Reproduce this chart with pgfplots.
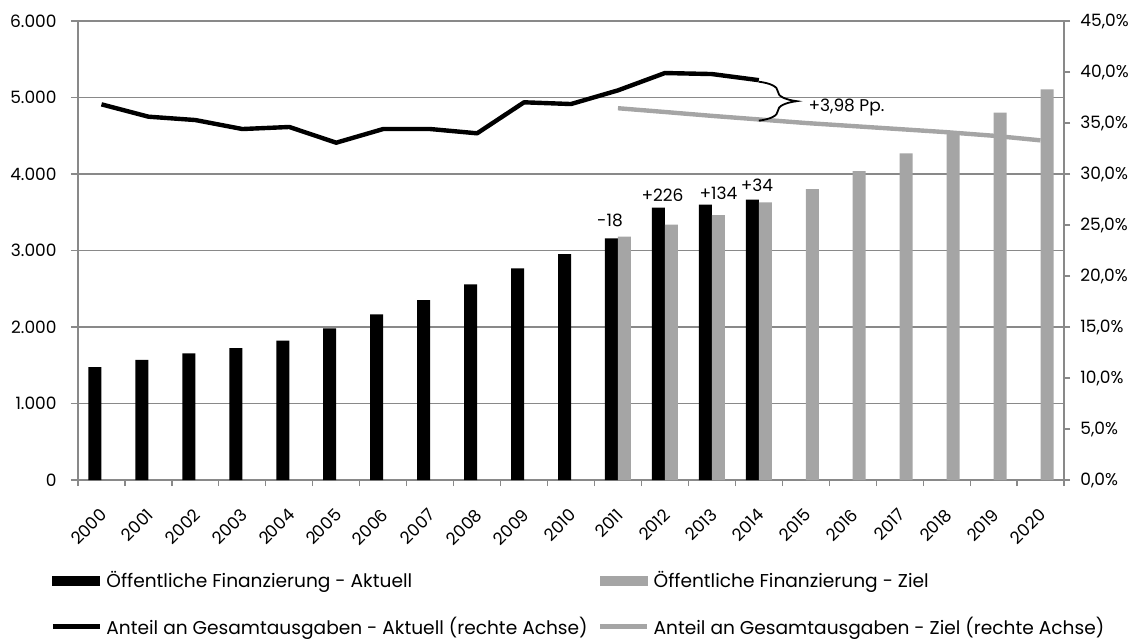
\documentclass[border=0pt]{standalone}
\usepackage{fontspec}
\setmainfont{Poppins}
\usepackage{pgfplots}
\pgfplotsset{compat=1.18}
\usetikzlibrary{decorations.pathreplacing}
\definecolor{barg}{HTML}{A5A5A5}
\definecolor{gridg}{HTML}{898989}
\newcommand{\fs}{\fontsize{8.5}{10}\selectfont}
\newcommand{\fl}{\fontsize{9.3}{11}\selectfont}
\begin{document}
\begin{tikzpicture}
\path[use as bounding box] (-39pt,-79.5pt) rectangle (530.5pt,240pt);
\begin{axis}[
  at={(0,0)}, anchor=south west,
  scale only axis, width=493pt, height=229.5pt,
  xmin=-0.5, xmax=20.5, ymin=0, ymax=6000,
  axis x line*=bottom, axis y line*=left,
  axis line style={draw=gridg, line width=0.6pt, -},
  ybar=0pt, bar width=6.5pt,
  ytick={0,1000,...,6000},
  ymajorgrids, grid style={draw=gridg, line width=0.6pt},
  tick align=outside, major tick length=3.5pt, minor tick length=3pt,
  tick style={draw=gridg, line width=0.6pt},
  xtick={0,...,20},
  xticklabels={2000,2001,2002,2003,2004,2005,2006,2007,2008,2009,2010,2011,2012,2013,2014,2015,2016,2017,2018,2019,2020},
  every major x tick/.append style={draw=none},
  minor xtick={-0.5,0.5,...,20.5},
  scaled y ticks=false,
  /pgf/number format/.cd, 1000 sep={.}, assume math mode=true, /pgfplots/.cd,
  tick label style={font=\fs},
  yticklabel style={anchor=east, inner sep=0pt, xshift=-7pt},
  xticklabel style={xshift=-1.25pt, yshift=-10pt, rotate=45, anchor=north east, inner sep=0pt},
]
\addplot[fill=black, draw=none] coordinates {
(0,1477) (1,1569) (2,1656) (3,1725) (4,1821) (5,1983) (6,2166) (7,2353) (8,2558) (9,2767) (10,2954) (11,3160) (12,3560) (13,3600) (14,3665)};
\addplot[fill=barg, draw=none] coordinates {
(11,3180) (12,3340) (13,3462) (14,3630) (15,3804) (16,4039) (17,4270) (18,4532) (19,4801) (20,5105)};
\node[font=\fs] at (axis cs:10.83,3399) {-18};
\node[font=\fs] at (axis cs:11.95,3725) {+226};
\node[font=\fs] at (axis cs:13.14,3752) {+134};
\node[font=\fs] at (axis cs:13.96,3856) {+34};
\end{axis}
\begin{axis}[
  at={(0,0)}, anchor=south west,
  scale only axis, width=493pt, height=229.5pt,
  xmin=-0.5, xmax=20.5, ymin=0, ymax=45,
  axis y line*=right, axis x line=none,
  axis line style={draw=gridg, line width=0.6pt, -},
  ytick={0,5,...,45},
  tick align=outside, major tick length=3pt,
  tick style={draw=gridg, line width=0.6pt},
  /pgf/number format/.cd, assume math mode=true, /pgfplots/.cd,
  yticklabel={\pgfmathprintnumber[fixed,fixed zerofill,precision=1,use comma]{\tick}\%},
  tick label style={font=\fs},
  yticklabel style={anchor=west, inner sep=0pt, xshift=5pt},
  legend columns=2, legend cell align=left,
  legend style={at={(rel axis cs:0,0)}, anchor=north west, xshift=-14pt, yshift=-43.3pt,
    draw=none, fill=none, inner sep=0pt, row sep=9.2pt, font=\fl,
    /tikz/every even column/.append style={column sep=3pt}},
]
\addlegendimage{legend image code/.code={\fill[black] (0pt,-2.25pt) rectangle (23.5pt,2.25pt);}}
\addlegendentry{Öffentliche Finanzierung - Aktuell}
\addlegendimage{legend image code/.code={\fill[barg] (0pt,-2.25pt) rectangle (23.5pt,2.25pt);}}
\addlegendentry{Öffentliche Finanzierung - Ziel}
\addlegendimage{legend image code/.code={\draw[black, line width=2.5pt] (0pt,0pt) -- (23.5pt,0pt);}}
\addlegendentry{Anteil an Gesamtausgaben - Aktuell (rechte Achse)}
\addlegendimage{legend image code/.code={\draw[barg, line width=2.5pt] (0pt,0pt) -- (23.5pt,0pt);}}
\addlegendentry{Anteil an Gesamtausgaben - Ziel (rechte Achse)}
\addplot[black, line width=2.2pt, line join=round, forget plot] coordinates {
(0,36.83) (1,35.62) (2,35.29) (3,34.41) (4,34.61) (5,33.07) (6,34.41) (7,34.41) (8,33.99) (9,37.03) (10,36.86) (11,38.2) (12,39.9) (13,39.8) (14,39.2)};
\addplot[barg, line width=2.2pt, line join=round, forget plot] coordinates {
(11,36.45) (12,36.08) (13,35.7) (14,35.35) (15,35.0) (16,34.7) (17,34.4) (18,34.1) (19,33.75) (20,33.3)};
\draw[decorate, decoration={brace, amplitude=19pt}, line width=0.9pt] (axis cs:14.0,39.05) -- (axis cs:14.0,35.23);
\node[font=\fs, anchor=west, inner sep=0pt] at (axis cs:15.05,36.57) {+3,98 Pp.};
\end{axis}
\end{tikzpicture}
\end{document}
